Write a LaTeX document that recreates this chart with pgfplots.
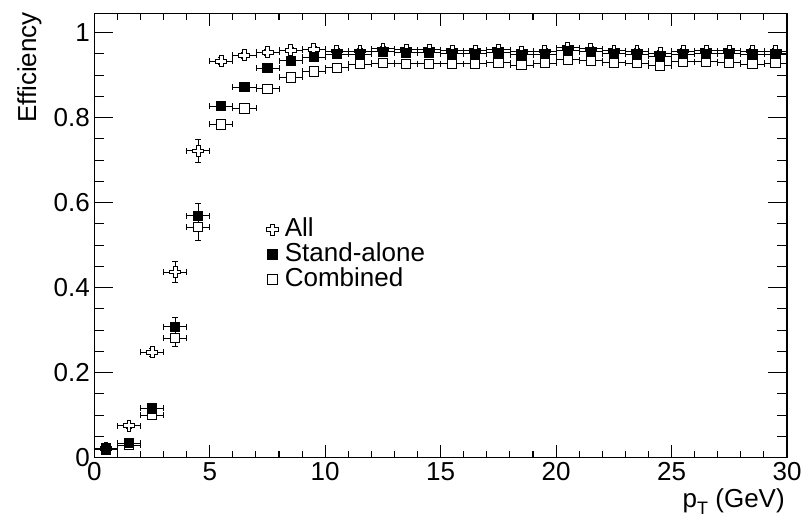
\documentclass[border=0pt]{standalone}
\usepackage{pgfplots}
\usepackage{pgfplotstable}
\pgfplotsset{compat=1.18}
\usepackage{fontspec}
\setmainfont{Liberation Sans}

\pgfdeclareplotmark{ocross}{%
  \pgfpathmoveto{\pgfpoint{0.35\pgfplotmarksize}{\pgfplotmarksize}}%
  \pgfpathlineto{\pgfpoint{0.35\pgfplotmarksize}{0.35\pgfplotmarksize}}%
  \pgfpathlineto{\pgfpoint{\pgfplotmarksize}{0.35\pgfplotmarksize}}%
  \pgfpathlineto{\pgfpoint{\pgfplotmarksize}{-0.35\pgfplotmarksize}}%
  \pgfpathlineto{\pgfpoint{0.35\pgfplotmarksize}{-0.35\pgfplotmarksize}}%
  \pgfpathlineto{\pgfpoint{0.35\pgfplotmarksize}{-\pgfplotmarksize}}%
  \pgfpathlineto{\pgfpoint{-0.35\pgfplotmarksize}{-\pgfplotmarksize}}%
  \pgfpathlineto{\pgfpoint{-0.35\pgfplotmarksize}{-0.35\pgfplotmarksize}}%
  \pgfpathlineto{\pgfpoint{-\pgfplotmarksize}{-0.35\pgfplotmarksize}}%
  \pgfpathlineto{\pgfpoint{-\pgfplotmarksize}{0.35\pgfplotmarksize}}%
  \pgfpathlineto{\pgfpoint{-0.35\pgfplotmarksize}{0.35\pgfplotmarksize}}%
  \pgfpathlineto{\pgfpoint{-0.35\pgfplotmarksize}{\pgfplotmarksize}}%
  \pgfpathclose
  \pgfusepathqfillstroke
}

\pgfplotstableread{
x y ex ey
0.5 0.022 0.5 0.004
1.5 0.075 0.5 0.006
2.5 0.248 0.5 0.010
3.5 0.437 0.5 0.024
4.5 0.722 0.5 0.028
5.5 0.933 0.5 0.008
6.5 0.947 0.5 0.007
7.5 0.954 0.5 0.007
8.5 0.959 0.5 0.006
9.5 0.961 0.5 0.006
10.5 0.957 0.5 0.006
11.5 0.957 0.5 0.006
12.5 0.962 0.5 0.006
13.5 0.960 0.5 0.006
14.5 0.960 0.5 0.006
15.5 0.958 0.5 0.006
16.5 0.958 0.5 0.006
17.5 0.960 0.5 0.006
18.5 0.955 0.5 0.006
19.5 0.957 0.5 0.006
20.5 0.965 0.5 0.006
21.5 0.962 0.5 0.006
22.5 0.958 0.5 0.006
23.5 0.956 0.5 0.006
24.5 0.952 0.5 0.006
25.5 0.957 0.5 0.006
26.5 0.958 0.5 0.006
27.5 0.958 0.5 0.006
28.5 0.957 0.5 0.006
29.5 0.957 0.5 0.006
}\alltab

\pgfplotstableread{
x y ex ey
0.5 0.022 0.5 0.004
1.5 0.034 0.5 0.005
2.5 0.116 0.5 0.010
3.5 0.308 0.5 0.022
4.5 0.569 0.5 0.030
5.5 0.827 0.5 0.010
6.5 0.872 0.5 0.008
7.5 0.917 0.5 0.007
8.5 0.934 0.5 0.007
9.5 0.943 0.5 0.006
10.5 0.950 0.5 0.006
11.5 0.950 0.5 0.006
12.5 0.955 0.5 0.006
13.5 0.953 0.5 0.006
14.5 0.953 0.5 0.006
15.5 0.951 0.5 0.006
16.5 0.951 0.5 0.006
17.5 0.953 0.5 0.006
18.5 0.948 0.5 0.006
19.5 0.950 0.5 0.006
20.5 0.958 0.5 0.006
21.5 0.955 0.5 0.006
22.5 0.951 0.5 0.006
23.5 0.949 0.5 0.006
24.5 0.945 0.5 0.006
25.5 0.950 0.5 0.006
26.5 0.951 0.5 0.006
27.5 0.951 0.5 0.006
28.5 0.950 0.5 0.006
29.5 0.950 0.5 0.006
}\satab

\pgfplotstableread{
x y ex ey
0.5 0.019 0.5 0.004
1.5 0.030 0.5 0.005
2.5 0.100 0.5 0.010
3.5 0.281 0.5 0.020
4.5 0.543 0.5 0.031
5.5 0.784 0.5 0.010
6.5 0.822 0.5 0.009
7.5 0.868 0.5 0.008
8.5 0.895 0.5 0.007
9.5 0.909 0.5 0.007
10.5 0.918 0.5 0.006
11.5 0.926 0.5 0.006
12.5 0.928 0.5 0.006
13.5 0.927 0.5 0.006
14.5 0.927 0.5 0.006
15.5 0.927 0.5 0.006
16.5 0.927 0.5 0.006
17.5 0.929 0.5 0.006
18.5 0.924 0.5 0.006
19.5 0.928 0.5 0.006
20.5 0.936 0.5 0.006
21.5 0.934 0.5 0.006
22.5 0.929 0.5 0.006
23.5 0.928 0.5 0.006
24.5 0.922 0.5 0.006
25.5 0.932 0.5 0.006
26.5 0.932 0.5 0.006
27.5 0.929 0.5 0.006
28.5 0.926 0.5 0.006
29.5 0.928 0.5 0.006
}\combtab

\pgfplotsset{
  ebars/.style={
    error bars/x dir=both, error bars/x explicit,
    error bars/y dir=both, error bars/y explicit,
    error bars/error mark options={rotate=90, mark size=3bp, line width=0.8bp},
    error bars/error bar style={line width=0.8bp}
  }
}

\newcommand{\bigfont}{\fontsize{26bp}{30bp}\selectfont}

\begin{document}
\begin{tikzpicture}
\path[use as bounding box] (-94.3bp,-61.3bp) rectangle (707.7bp,457.7bp);
\begin{axis}[
  at={(0,0)}, anchor=south west,
  scale only axis,
  width=692.7bp, height=444.4bp,
  xmin=0, xmax=30, ymin=0, ymax=1.0456,
  axis line style={line width=1.1bp},
  every tick/.style={black, line width=1.1bp},
  tick align=inside,
  xtick pos=both, ytick pos=both,
  xticklabel pos=lower, yticklabel pos=left,
  xtick={0,5,...,30},
  ytick={0,0.2,0.4,0.6,0.8,1},
  yticklabels={0,0.2,0.4,0.6,0.8,1},
  minor x tick num=4,
  minor y tick num=3,
  major tick length=13bp, minor tick length=6.5bp,
  ytick style={/pgfplots/major tick length=19bp,/pgfplots/minor tick length=10bp},
  /pgf/number format/assume math mode=true,
  tick label style={font=\bigfont},
  xticklabel style={yshift=-1bp},
  yticklabel style={xshift=-1bp},
  xlabel={p\raisebox{-0.55ex}{\fontsize{18bp}{20bp}\selectfont T} (GeV)},
  xlabel style={font=\bigfont, at={(axis description cs:0.997,-0.111)}, anchor=base east, inner sep=0pt},
  ylabel={Efficiency},
  ylabel style={font=\bigfont, at={(axis description cs:-0.076,1.003)}, anchor=south east, inner sep=0pt},
  legend style={at={(axis cs:7.46,0.566)}, anchor=north west, draw=none, fill=none,
    inner sep=0pt, column sep=6bp, row sep=0pt,
    font=\bigfont,
    nodes={inner sep=0.5bp, text height=18.5bp, text depth=5.5bp}},
  legend cell align=left,
]
\addlegendimage{only marks, mark=ocross, mark size=5.8bp, mark options={fill=white, draw=black, line width=0.8bp}}
\addlegendentry{All}
\addlegendimage{only marks, mark=square*, mark size=5bp, mark options={fill=black, draw=black, line width=0.8bp}}
\addlegendentry{Stand-alone}
\addlegendimage{only marks, mark=square*, mark size=5bp, mark options={fill=white, draw=black, line width=0.8bp}}
\addlegendentry{Combined}

\addplot[forget plot, only marks, black, line width=0.8bp, mark=ocross, mark size=5.5bp,
  mark options={fill=white, draw=black}, ebars]
  table[x=x, y=y, x error=ex, y error=ey]{\alltab};
\addplot[forget plot, only marks, black, line width=0.8bp, mark=square*, mark size=4.6bp,
  mark options={fill=white, draw=black}, ebars]
  table[x=x, y=y, x error=ex, y error=ey]{\combtab};
\addplot[forget plot, only marks, black, line width=0.8bp, mark=square*, mark size=4.6bp,
  mark options={fill=black, draw=black}, ebars]
  table[x=x, y=y, x error=ex, y error=ey]{\satab};
\end{axis}
\end{tikzpicture}
\end{document}
